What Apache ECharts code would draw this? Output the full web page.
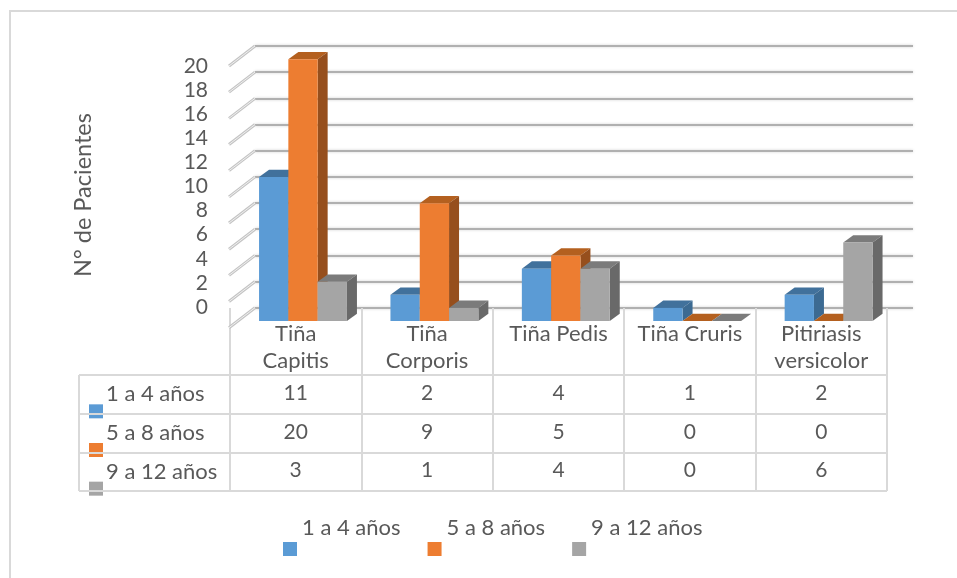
<!DOCTYPE html>
<html>
<head>
<meta charset="utf-8">
<style>html,body{margin:0;padding:0;background:#fff}#c{width:957px;height:578px}</style>
<script src="https://cdn.jsdelivr.net/npm/echarts@6/dist/echarts.min.js"></script>
</head>
<body>
<div id="c"></div>
<script>
// Casos de tiñas por grupo de edad
const categories = ['Tiña\nCapitis', 'Tiña\nCorporis', 'Tiña Pedis', 'Tiña Cruris', 'Pitiriasis\nversicolor'];
const groups = ['1 a 4 años', '5 a 8 años', '9 a 12 años'];
const age1to4 = [11, 2, 4, 1, 2];
const age5to8 = [20, 9, 5, 0, 0];
const age9to12 = [3, 1, 4, 0, 6];
const yTicks = [0, 2, 4, 6, 8, 10, 12, 14, 16, 18, 20];
const axisTitle = 'N° de Pacientes';

const rows = [age1to4, age5to8, age9to12];
const front = ['#5B9BD5', '#ED7D31', '#A5A5A5'];
const topFace = ['#41719C', '#B4601F', '#7B7B7B'];
const sideFace = ['#3C6A92', '#964F1D', '#696969'];
const TEXT = '#595959', LINE = '#D9D9D9', FONT = 'Lato';
const BAR_RATIO = 29.3 / 131.4, DEPTH_X = 10, DEPTH_Y = 7.3;

// Barra en falsa perspectiva: cara frontal, tapa y lateral
function barRenderer(s) {
  return function (params, api) {
    const base = api.coord([api.value(0), 0]);
    const top = api.coord([api.value(0), api.value(1)]);
    const w = api.size([1, 0])[0] * BAR_RATIO;
    const x0 = base[0] + (s - 1.5) * w, x1 = x0 + w;
    const y0 = base[1], y1 = top[1];
    const children = [];
    children.push({ type: 'polygon', shape: { points: [[x0, y1], [x1, y1], [x1 + DEPTH_X, y1 - DEPTH_Y], [x0 + DEPTH_X, y1 - DEPTH_Y]] }, style: { fill: topFace[s] } });
    if (y0 - y1 > 0.5) {
      children.push({ type: 'polygon', shape: { points: [[x1, y0], [x1, y1], [x1 + DEPTH_X, y1 - DEPTH_Y], [x1 + DEPTH_X, y0 - DEPTH_Y]] }, style: { fill: sideFace[s] } });
      children.push({ type: 'rect', shape: { x: x0, y: y1, width: w, height: y0 - y1 }, style: { fill: front[s] } });
    }
    return { type: 'group', children };
  };
}

const barSeries = groups.map((name, s) => ({
  name, type: 'custom', xAxisIndex: 0, yAxisIndex: 0, z: 3, clip: false,
  itemStyle: { color: front[s] },
  data: rows[s].map((v, i) => [i, v]),
  renderItem: barRenderer(s)
}));

// Líneas oblicuas de la pared lateral
const sideWall = {
  name: 'pared', type: 'custom', xAxisIndex: 1, yAxisIndex: 1, z: 1, clip: false, silent: true,
  data: yTicks.map(v => [0, v]),
  renderItem(params, api) {
    const p = api.coord([0, api.value(1)]);
    const left = p[0] - api.size([1, 0])[0] / 2;
    const shape = { x1: left, y1: p[1], x2: left - 26, y2: p[1] + 20 };
    return {
      type: 'group', children: [
        { type: 'line', shape, style: { stroke: '#C4C4C4', lineWidth: 3 } },
        { type: 'line', shape, style: { stroke: '#F0F0F0', lineWidth: 1 } }
      ]
    };
  }
};

// Valores de la tabla de datos
const tableValues = {
  name: 'tabla', type: 'custom', xAxisIndex: 4, yAxisIndex: 4, z: 3, silent: true,
  data: rows.flatMap((r, j) => r.map((v, i) => [i, j, v])),
  renderItem(params, api) {
    const p = api.coord([api.value(0), api.value(1)]);
    return { type: 'text', style: { text: String(api.value(2)), x: p[0], y: p[1] - 1, align: 'center', verticalAlign: 'middle', fill: TEXT, font: '21px ' + FONT } };
  }
};

// Claves de color de la primera columna
const tableKeys = {
  name: 'claves', type: 'custom', xAxisIndex: 5, yAxisIndex: 5, z: 2, clip: false, silent: true,
  data: groups.map((g, j) => [0, j]),
  renderItem(params, api) {
    const j = api.value(1);
    const p = api.coord([0, j]);
    const left = p[0] - api.size([1, 0])[0] / 2;
    return { type: 'rect', shape: { x: left + 10, y: p[1] + 10, width: 14, height: 14 }, style: { fill: front[j] } };
  }
};

const hiddenCat = gridIndex => ({ type: 'category', gridIndex, show: false, data: categories });
const hiddenVal = gridIndex => ({ type: 'value', gridIndex, show: false, min: 0, max: 20 });
const tableSplit = { show: true, interval: 0, lineStyle: { color: LINE, width: 2 } };

const option = {
  animation: false,
  backgroundColor: '#fff',
  textStyle: { fontFamily: FONT },
  legend: {
    left: 278, top: 502, icon: 'rect', itemWidth: 14, itemHeight: 14, itemGap: 27, itemStyle: { borderWidth: 0 },
    data: groups, selectedMode: false,
    // La segunda línea vacía eleva el nombre por encima de su clave
    formatter: name => name + '\n ',
    textStyle: { color: TEXT, fontSize: 22, lineHeight: 42, fontFamily: FONT }
  },
  grid: [
    { left: 237.3, top: 59.3, width: 657, height: 261.7 },
    { left: 255, top: 46, width: 658, height: 261.7 },
    { left: 216, top: 66, width: 10, height: 241 },
    { left: 230, top: 308, width: 657, height: 67 },
    { left: 230, top: 375, width: 657, height: 116 },
    { left: 79, top: 375, width: 151, height: 116 }
  ],
  xAxis: [
    hiddenCat(0),
    { type: 'category', gridIndex: 1, show: false, data: [''] },
    { type: 'category', gridIndex: 2, show: false, data: [''] },
    {
      type: 'category', gridIndex: 3, position: 'top', data: categories,
      axisLine: { show: false }, axisTick: { show: false }, splitLine: tableSplit,
      axisLabel: { inside: true, interval: 0, margin: 12, color: TEXT, fontSize: 22, lineHeight: 27, fontFamily: FONT }
    },
    {
      type: 'category', gridIndex: 4, data: categories,
      axisLine: { show: false }, axisTick: { show: false }, axisLabel: { show: false }, splitLine: tableSplit
    },
    {
      type: 'category', gridIndex: 5, data: [''],
      axisLine: { show: false }, axisTick: { show: false }, axisLabel: { show: false }, splitLine: tableSplit
    }
  ],
  yAxis: [
    hiddenVal(0),
    {
      type: 'value', gridIndex: 1, min: 0, max: 20, interval: 2,
      axisLine: { show: false }, axisTick: { show: false }, axisLabel: { show: false },
      splitLine: { lineStyle: { color: '#B0B0B0', width: 2, shadowColor: '#CFCFCF', shadowBlur: 3 } }
    },
    {
      type: 'value', gridIndex: 2, min: 0, max: 20, interval: 2,
      axisLine: { show: false }, axisTick: { show: false }, splitLine: { show: false },
      axisLabel: { color: TEXT, fontSize: 21, margin: 8, fontFamily: FONT }
    },
    hiddenVal(3),
    {
      type: 'category', gridIndex: 4, inverse: true, data: groups,
      axisLine: { show: false }, axisTick: { show: false }, axisLabel: { show: false }, splitLine: tableSplit
    },
    {
      type: 'category', gridIndex: 5, inverse: true, data: groups, z: 5,
      axisLine: { show: false }, axisTick: { show: false }, splitLine: tableSplit,
      axisLabel: { inside: true, interval: 0, margin: 27, color: TEXT, fontSize: 22, fontFamily: FONT, padding: [0, 0, 7, 0] }
    }
  ],
  series: [sideWall, ...barSeries, tableValues, tableKeys],
  graphic: [
    { type: 'line', z: -1, shape: { x1: 10, y1: 11, x2: 957, y2: 11 }, style: { stroke: LINE, lineWidth: 2 } },
    { type: 'line', z: -1, shape: { x1: 10, y1: 10, x2: 10, y2: 578 }, style: { stroke: LINE, lineWidth: 2 } },
    {
      type: 'text', x: 83, y: 195, rotation: Math.PI / 2,
      style: { text: axisTitle, align: 'center', verticalAlign: 'middle', fill: TEXT, font: '23.5px ' + FONT }
    }
  ]
};

echarts.init(document.getElementById('c'), null, { renderer: 'canvas' }).setOption(option);
</script>
</body>
</html>
